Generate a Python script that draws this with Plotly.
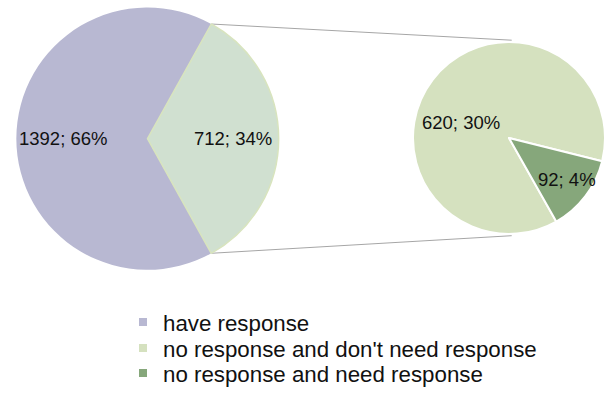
import math
import plotly.graph_objects as go

# ---- data ----
main_labels = ["have response", "no response"]
main_values = [1392, 712]
sub_labels = ["no response and don't need response", "no response and need response"]
sub_values = [620, 92]
legend_labels = ["have response", "no response and don't need response", "no response and need response"]

main_colors = ["#B8B8D2", "#D0E0D0"]
sub_colors = ["#D5E1BF", "#86A77B"]
legend_colors = ["#B8B8D2", "#D5E1BF", "#86A77B"]

total = sum(main_values)


def pct_largest_remainder(vals, tot):
    raw = [100 * v / tot for v in vals]
    fl = [int(math.floor(x)) for x in raw]
    rest = 100 - sum(fl)
    order = sorted(range(len(raw)), key=lambda i: raw[i] - fl[i], reverse=True)
    for i in order[:rest]:
        fl[i] += 1
    return fl


leaf_pct = pct_largest_remainder([main_values[0]] + sub_values, total)
main_pct = [leaf_pct[0], round(100 * main_values[1] / total)]
sub_pct = leaf_pct[1:]
main_text = [f"{v}; {p}%" for v, p in zip(main_values, main_pct)]
sub_text = [f"{v}; {p}%" for v, p in zip(sub_values, sub_pct)]

W, H = 605, 394
FONT = "Arial, Liberation Sans, sans-serif"

# geometry (pixels)
lcx, lcy, lr = 147.5, 139.0, 131.5
rx0, rx1, rcy, rh = 413.0, 605.0, 138.3, 99.0
rr = min(rx1 - rx0, 2 * rh) / 2
rcx = (rx0 + rx1) / 2

other_angle = 360 * main_values[1] / total
need_angle = 360 * sub_values[1] / sum(sub_values)
sub_start = -14.0  # math angle where the small slice begins (counter-clockwise edge)

fig = go.Figure()

fig.add_trace(go.Pie(
    labels=main_labels, values=main_values, textinfo="none",
    sort=False, direction="clockwise", rotation=90 + other_angle / 2,
    marker=dict(colors=main_colors, line=dict(color=["rgba(0,0,0,0)", "#D8E4BE"], width=[0, 1.5])),
    domain=dict(x=[(lcx - lr) / W, (lcx + lr) / W], y=[1 - (lcy + lr) / H, 1 - (lcy - lr) / H]),
    showlegend=False, hoverinfo="label+value",
))

fig.add_trace(go.Pie(
    labels=sub_labels, values=sub_values, textinfo="none",
    sort=False, direction="clockwise", rotation=90 - sub_start + need_angle,
    marker=dict(colors=sub_colors, line=dict(color="white", width=2)),
    domain=dict(x=[rx0 / W, rx1 / W], y=[1 - (rcy + rh) / H, 1 - (rcy - rh) / H]),
    showlegend=False, hoverinfo="label+value",
))

# data labels: placed along each slice direction
main_mid = [180.0, 0.0]
main_frac = [0.64, 0.65]
sub_mid = [163.0, sub_start - need_angle / 2]
sub_frac = [0.54, 0.70]
for txt, ang, fr in zip(main_text, main_mid, main_frac):
    a = math.radians(ang)
    fig.add_annotation(x=(lcx + fr * lr * math.cos(a)) / W, y=1 - (lcy - fr * lr * math.sin(a)) / H,
                       xref="paper", yref="paper", text=txt, showarrow=False,
                       xanchor="center", yanchor="middle",
                       font=dict(family=FONT, size=18.5, color="#111111"))
for txt, ang, fr in zip(sub_text, sub_mid, sub_frac):
    a = math.radians(ang)
    fig.add_annotation(x=(rcx + 2.7 + fr * 99 * math.cos(a)) / W, y=1 - (rcy - fr * 99 * math.sin(a)) / H,
                       xref="paper", yref="paper", text=txt, showarrow=False,
                       xanchor="center", yanchor="middle",
                       font=dict(family=FONT, size=18.5, color="#111111"))

# connector lines from the "other" slice edges to top/bottom of the secondary pie
ha = math.radians(other_angle / 2)
p_top = (lcx + lr * math.cos(ha), lcy - lr * math.sin(ha))
p_bot = (lcx + lr * math.cos(ha), lcy + lr * math.sin(ha))
q_top = (rcx + 2.7, rcy - rr - 2)
q_bot = (rcx + 2.7, rcy + rr + 2)
for p, q in [(p_top, q_top), (p_bot, q_bot)]:
    fig.add_shape(type="line", xref="paper", yref="paper",
                  x0=p[0] / W, y0=1 - p[1] / H, x1=q[0] / W, y1=1 - q[1] / H,
                  line=dict(color="#A6A6A6", width=1), layer="below")

# legend entries (one legend per item for exact placement)
legend_y = [322, 348, 374]
legend_names = ["legend", "legend2", "legend3"]
for name, col, lg in zip(legend_labels, legend_colors, legend_names):
    fig.add_trace(go.Scatter(x=[None], y=[None], mode="markers", name=name,
                             marker=dict(symbol="square", size=8, color=col),
                             legend=lg, showlegend=True, hoverinfo="skip"))

leg_common = dict(xanchor="left", yanchor="middle", bgcolor="rgba(0,0,0,0)",
                  font=dict(family=FONT, size=22.3, color="#111111"), itemwidth=30)
fig.update_layout(
    width=W, height=H, margin=dict(l=0, r=0, t=0, b=0),
    paper_bgcolor="white", plot_bgcolor="white",
    xaxis=dict(visible=False), yaxis=dict(visible=False),
    legend=dict(x=123 / W, y=1 - legend_y[0] / H, **leg_common),
    legend2=dict(x=123 / W, y=1 - legend_y[1] / H, **leg_common),
    legend3=dict(x=123 / W, y=1 - legend_y[2] / H, **leg_common),
)

fig.write_html("out.html")
